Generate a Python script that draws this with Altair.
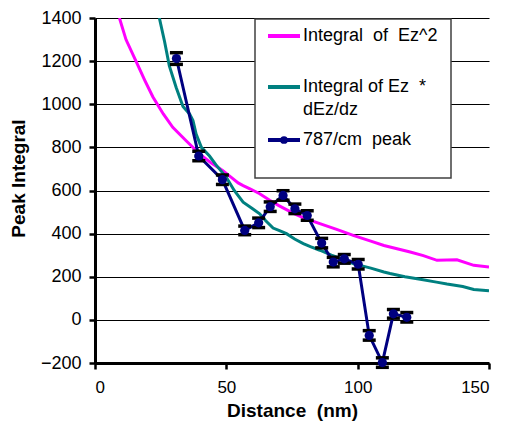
import altair as alt
import pandas as pd

# Integral of Ez^2 (magenta)
mag_x = [9.3, 11.8, 15.6, 19, 22, 26, 29.6, 34.7, 39.8, 44, 48.7, 52, 54.5, 56.4, 59, 62.7,
         66.5, 70, 75.4, 80, 85.6, 92, 98.3, 105, 110, 115, 120, 125, 130.2, 137.8, 144.2, 150]
mag_y = [1400, 1300, 1200, 1110, 1035, 955, 893, 831, 770, 730, 692, 660, 635, 623, 608, 585,
         555, 530, 495, 470, 446, 420, 392, 365, 345, 330, 315, 298, 276, 279, 253, 245]

# Integral of Ez * dEz/dz (teal)
teal_x = [24.5, 26.5, 28.3, 30.9, 33.5, 36, 37.3, 38.5, 40.5, 43.6, 46, 50, 53, 56.4, 60, 62.7,
          65, 67.8, 70, 72.9, 76, 79.3, 82, 85.6, 90, 95, 98.3, 105, 110, 112.3, 118, 123.8,
          130, 134, 140, 144.2, 150]
teal_y = [1400, 1290, 1178, 1078, 990, 955, 924, 862, 800, 760, 720, 661, 600, 546, 515, 492,
          460, 426, 415, 400, 375, 354, 340, 323, 300, 278, 261, 240, 222, 215, 200, 188,
          175, 166, 155, 141, 135]

# 787/cm peak (navy) with error bars
pk_x = [31, 39.5, 48.5, 57, 62.3, 66.7, 71.6, 76.1, 80.8, 86.3, 90.7, 94.9, 100.2, 104.4, 109.4, 113.6, 118.7]
pk_y = [1212, 760, 650, 415, 450, 525, 577, 515, 484, 356, 268, 283, 258, -72, -198, 28, 12]
pk_err = [27, 22, 22, 20, 22, 22, 22, 22, 22, 22, 22, 20, 22, 22, 22, 20, 22]

NB = "\u00a0"
labels = ["Integral" + NB * 2 + "of" + NB * 2 + "Ez^2",
          "Integral" + NB + "of" + NB + "Ez" + NB * 2 + "*",
          "dEz/dz",
          "787/cm" + NB * 2 + "peak"]
x_title = "Distance" + NB * 2 + "(nm)"
y_title = "Peak Integral"

FONT = "Liberation Sans"

curves = pd.concat([
    pd.DataFrame({"x": mag_x, "y": mag_y, "s": "mag"}),
    pd.DataFrame({"x": teal_x, "y": teal_y, "s": "teal"}),
])
peak = pd.DataFrame({"x": pk_x, "y": pk_y, "lo": [v - e for v, e in zip(pk_y, pk_err)],
                     "hi": [v + e for v, e in zip(pk_y, pk_err)]})

xs = alt.Scale(domain=[0, 150], nice=False, zero=False)
ys = alt.Scale(domain=[-200, 1400], nice=False, zero=False)

xaxis = alt.Axis(values=[0, 50, 100, 150], grid=False, domainColor="black", domainWidth=3,
                 tickColor="black", tickWidth=2.5, tickSize=6, labelFontSize=17, labelFont=FONT,
                 labelColor="black", labelPadding=10, title=x_title, titleFont=FONT,
                 titleFontSize=19, titleFontWeight="bold", titleColor="black", titlePadding=6)
yaxis = alt.Axis(values=list(range(-200, 1401, 200)), format="d", grid=True, gridColor="black",
                 gridWidth=1, gridOpacity=1, domainColor="black", domainWidth=3, tickColor="black",
                 tickWidth=2.5, tickSize=6, labelFontSize=18, labelFont=FONT, labelColor="black",
                 labelPadding=8, title=y_title, titleFont=FONT, titleFontSize=19,
                 titleFontWeight="bold", titleColor="black", titlePadding=12, titleY=160)

curve_layer = alt.Chart(curves).mark_line(strokeWidth=3, clip=True).encode(
    x=alt.X("x:Q", scale=xs, axis=xaxis),
    y=alt.Y("y:Q", scale=ys, axis=yaxis),
    color=alt.Color("s:N", scale=alt.Scale(domain=["mag", "teal"], range=["#FF00FF", "#008080"]), legend=None),
    detail="s:N",
)

base = alt.Chart(peak)
peak_line = base.mark_line(strokeWidth=3, color="#000080").encode(x=alt.X("x:Q", scale=xs), y=alt.Y("y:Q", scale=ys))
err_rule = base.mark_rule(color="black", strokeWidth=1.5).encode(x=alt.X("x:Q", scale=xs), y=alt.Y("lo:Q", scale=ys), y2="hi:Q")
cap_lo = base.mark_tick(color="black", thickness=3.5, size=13, orient="horizontal", opacity=1).encode(x=alt.X("x:Q", scale=xs), y=alt.Y("lo:Q", scale=ys))
cap_hi = base.mark_tick(color="black", thickness=3.5, size=13, orient="horizontal", opacity=1).encode(x=alt.X("x:Q", scale=xs), y=alt.Y("hi:Q", scale=ys))
peak_pts = base.mark_point(shape="circle", filled=True, size=85, color="#000080", opacity=1).encode(
    x=alt.X("x:Q", scale=xs), y=alt.Y("y:Q", scale=ys))

one = alt.Data(values=[{}])
leg_box = alt.Chart(one).mark_rect(fill="white", stroke="#404040", strokeWidth=1.5).encode(
    x=alt.value(160), x2=alt.value(356), y=alt.value(1), y2=alt.value(160))

def leg_line(y, color):
    return alt.Chart(one).mark_rule(color=color, strokeWidth=4).encode(
        x=alt.value(173), x2=alt.value(205), y=alt.value(y))

def leg_text(y, t):
    return alt.Chart(one).mark_text(align="left", baseline="middle", font=FONT, fontSize=18, color="black").encode(
        x=alt.value(208), y=alt.value(y), text=alt.value(t))

leg_pt = alt.Chart(one).mark_point(shape="circle", filled=True, size=60, color="#000080", opacity=1).encode(
    x=alt.value(189), y=alt.value(122))

chart = alt.layer(
    curve_layer, peak_line, err_rule, cap_lo, cap_hi, peak_pts,
    leg_box, leg_line(18, "#FF00FF"), leg_text(18, labels[0]),
    leg_line(69, "#008080"), leg_text(69, labels[1]), leg_text(92, labels[2]),
    leg_line(122, "#000080"), leg_pt, leg_text(122, labels[3]),
).properties(
    width=394, height=345,
    autosize=alt.AutoSizeParams(type="none"),
    padding={"left": 87, "top": 10, "right": 10, "bottom": 62},
    background="white",
).configure_view(stroke=None)

chart.save("out.html", embed_options={"renderer": "svg", "actions": False})
